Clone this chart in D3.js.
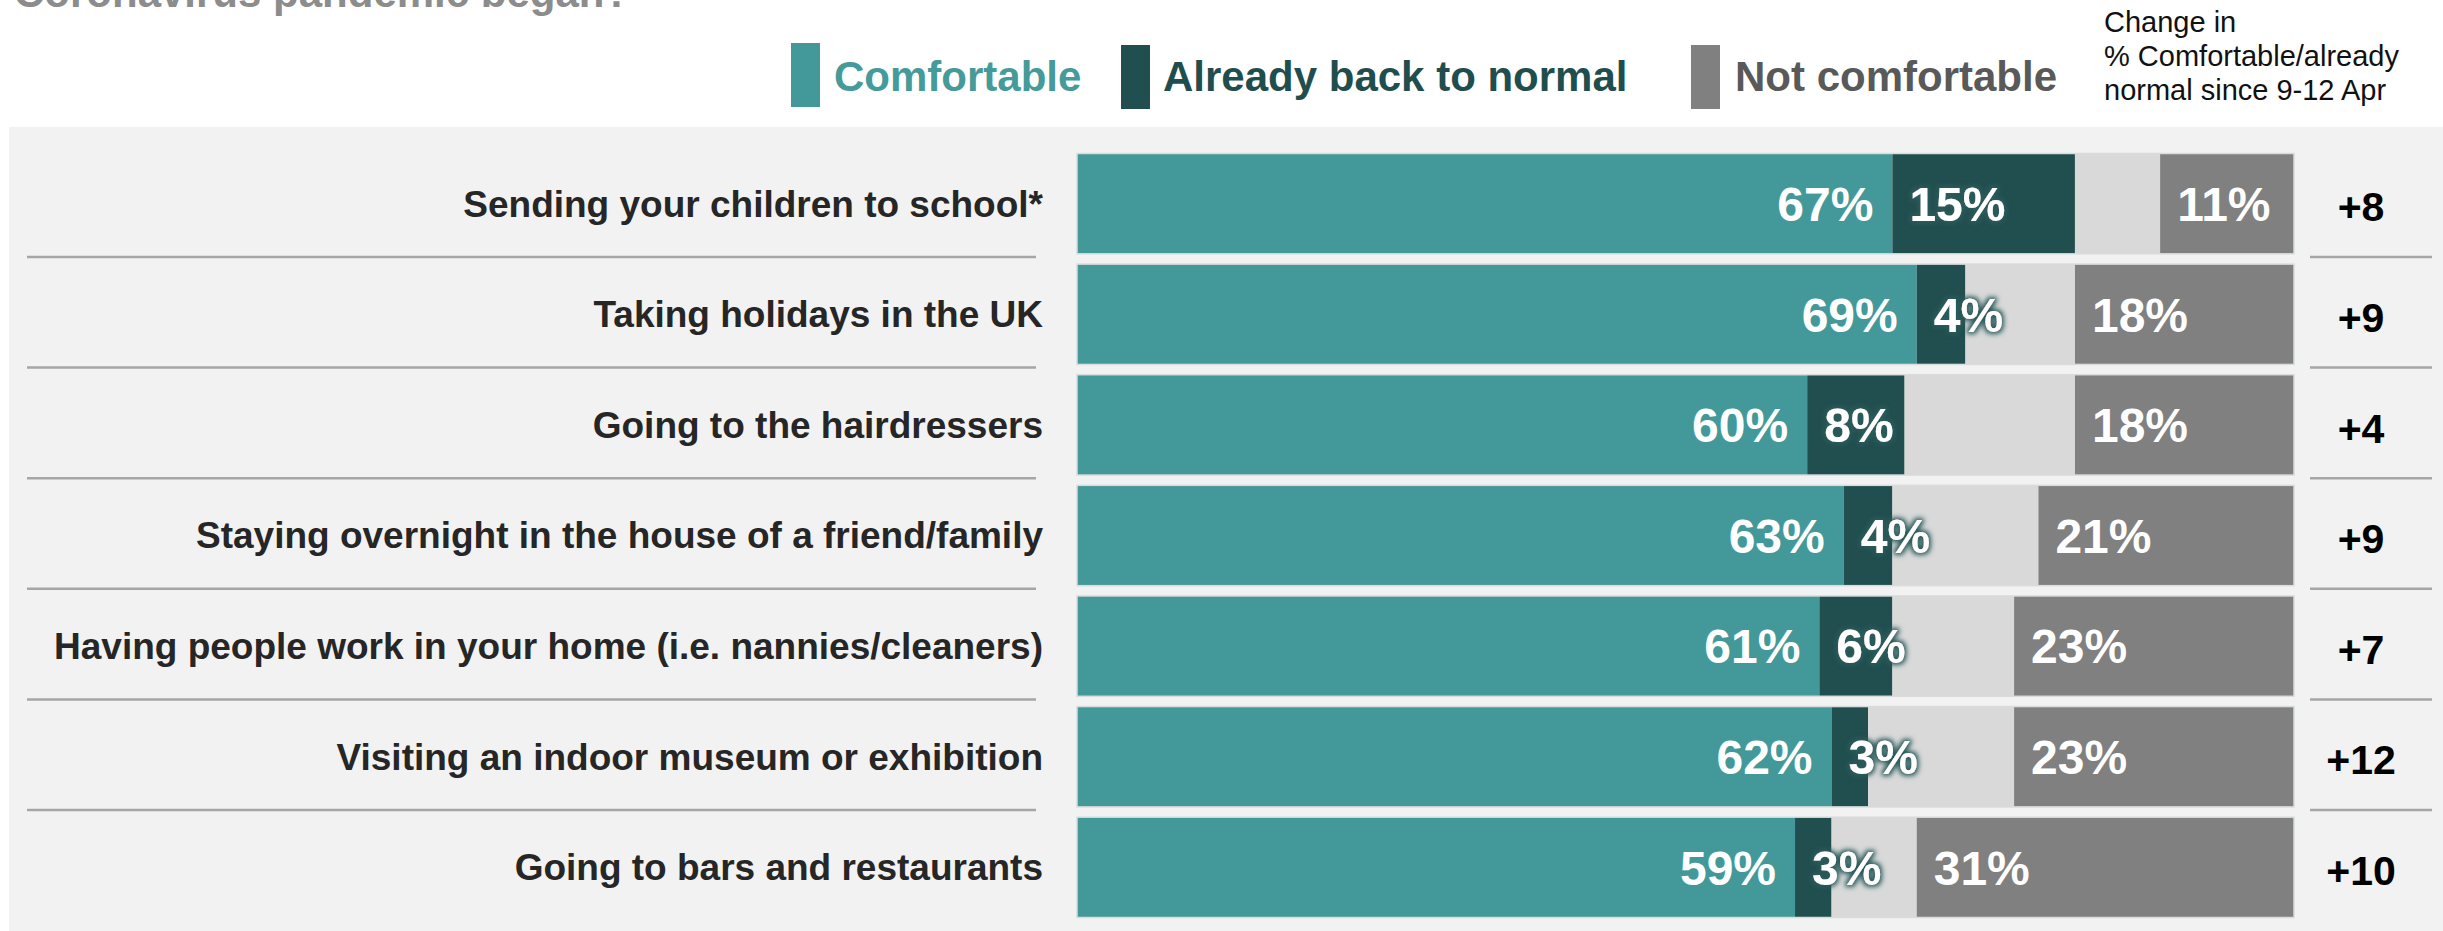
<!DOCTYPE html>
<html>
<head>
<meta charset="utf-8">
<script src="https://cdn.jsdelivr.net/npm/d3@7"></script>
<style>
  html, body { margin: 0; padding: 0; background: #ffffff; }
  svg { display: block; }
  text { font-family: "Liberation Sans", Arial, Helvetica, sans-serif; }
</style>
</head>
<body>
<svg id="chart" width="2443" height="931"></svg>
<script>
const categories = [
  "Sending your children to school*",
  "Taking holidays in the UK",
  "Going to the hairdressers",
  "Staying overnight in the house of a friend/family",
  "Having people work in your home (i.e. nannies/cleaners)",
  "Visiting an indoor museum or exhibition",
  "Going to bars and restaurants"
];
const comfortable    = [67, 69, 60, 63, 61, 62, 59];
const alreadyNormal  = [15, 4, 8, 4, 6, 3, 3];
const dontKnow       = [7, 9, 14, 12, 10, 12, 7];
const notComfortable = [11, 18, 18, 21, 23, 23, 31];
const changeLabels   = ["+8", "+9", "+4", "+9", "+7", "+12", "+10"];
const seriesKeys     = ["comfortable", "alreadyNormal", "dontKnow", "notComfortable"];
const legendLabels   = ["Comfortable", "Already back to normal", "Not comfortable"];
const titleText      = "Coronavirus pandemic began?";
const changeHeader   = ["Change in", "% Comfortable/already", "normal since 9-12 Apr"];

const rows = categories.map((c, i) => ({
  category: c,
  comfortable: comfortable[i],
  alreadyNormal: alreadyNormal[i],
  dontKnow: dontKnow[i],
  notComfortable: notComfortable[i],
  change: changeLabels[i]
}));

const colors = {
  comfortable: "#439999",
  alreadyNormal: "#214e4f",
  dontKnow: "#d9d9d9",
  notComfortable: "#808080"
};

const svg = d3.select("#chart");

// filter for glow on "already" labels
const defs = svg.append("defs");
const f = defs.append("filter").attr("id", "glow").attr("x", "-30%").attr("y", "-30%").attr("width", "160%").attr("height", "160%");
f.append("feMorphology").attr("in", "SourceAlpha").attr("operator", "dilate").attr("radius", 1.5).attr("result", "d");
f.append("feGaussianBlur").attr("in", "d").attr("stdDeviation", 2.5).attr("result", "b");
f.append("feFlood").attr("flood-color", "#2b5c5c").attr("result", "c");
f.append("feComposite").attr("in", "c").attr("in2", "b").attr("operator", "in").attr("result", "s");
const fm = f.append("feMerge");
fm.append("feMergeNode").attr("in", "s");
fm.append("feMergeNode").attr("in", "SourceGraphic");

// title (cut off at top)
svg.append("text")
  .attr("x", 14).attr("y", 7)
  .attr("font-size", 42).attr("font-weight", "bold")
  .attr("fill", "#8c8c8c")
  .text(titleText);

// background panel
svg.append("rect")
  .attr("x", 9).attr("y", 127)
  .attr("width", 2443 - 9).attr("height", 931 - 127)
  .attr("fill", "#f2f2f2");

// legend
const legendItems = [
  { label: legendLabels[0], color: colors.comfortable, text: "#459a9a", sx: 791, tx: 834 },
  { label: legendLabels[1], color: colors.alreadyNormal, text: "#1f4e4e", sx: 1121, tx: 1163 },
  { label: legendLabels[2], color: colors.notComfortable, text: "#595959", sx: 1691, tx: 1735 }
];
const lg = svg.append("g");
lg.selectAll("rect").data(legendItems).join("rect")
  .attr("x", d => d.sx).attr("y", (d, i) => i === 0 ? 43 : 45)
  .attr("width", 29).attr("height", 64)
  .attr("fill", d => d.color);
lg.selectAll("text").data(legendItems).join("text")
  .attr("x", d => d.tx).attr("y", 91)
  .attr("font-size", 42).attr("font-weight", "bold")
  .attr("fill", d => d.text)
  .text(d => d.label);

// change header
svg.append("text")
  .attr("x", 2104).attr("font-size", 29).attr("fill", "#111111")
  .selectAll("tspan").data(changeHeader).join("tspan")
  .attr("x", 2104).attr("y", (d, i) => 31.5 + i * 34.3)
  .text(d => d);

// scales
const x = d3.scaleLinear().domain([0, 100]).range([1077, 2294]);
const y = d3.scaleBand().domain(categories).range([153.5, 917.5]).paddingInner(0.093).paddingOuter(0);

const stack = d3.stack().keys(seriesKeys);
const stacked = stack(rows);

// bars
const barG = svg.append("g");
barG.selectAll("g").data(stacked).join("g")
  .attr("fill", d => colors[d.key])
  .selectAll("rect").data(d => d).join("rect")
  .attr("x", d => x(d[0]))
  .attr("y", d => y(d.data.category))
  .attr("width", d => x(d[1]) - x(d[0]))
  .attr("height", y.bandwidth());

// light outline around each bar
barG.append("g").selectAll("rect").data(rows).join("rect")
  .attr("x", x(0)).attr("y", d => y(d.category))
  .attr("width", x(100) - x(0)).attr("height", y.bandwidth())
  .attr("fill", "none").attr("stroke", "#d8dcdc").attr("stroke-width", 1.5);

// separators
const sepY = categories.slice(0, -1).map(c => y(c) + y.bandwidth() + (y.step() - y.bandwidth()) / 2 - 2);
svg.append("g").selectAll("line.l").data(sepY).join("line")
  .attr("x1", 27).attr("x2", 1036).attr("y1", d => d).attr("y2", d => d)
  .attr("stroke", "#a6a6a6").attr("stroke-width", 2.5);
svg.append("g").selectAll("line.r").data(sepY).join("line")
  .attr("x1", 2310).attr("x2", 2432).attr("y1", d => d).attr("y2", d => d)
  .attr("stroke", "#a6a6a6").attr("stroke-width", 2.5);

// category labels
svg.append("g").selectAll("text").data(rows).join("text")
  .attr("x", 1043)
  .attr("y", d => y(d.category) + y.bandwidth() / 2)
  .attr("dy", "0.35em")
  .attr("text-anchor", "end")
  .attr("font-size", 37).attr("font-weight", "bold")
  .attr("fill", "#262626")
  .text(d => d.category);

// value labels
const lblG = svg.append("g").attr("font-size", 48).attr("font-weight", "bold").attr("fill", "#ffffff");
const cy = d => y(d.category) + y.bandwidth() / 2;
lblG.selectAll("text.c").data(rows).join("text")
  .attr("x", d => x(d.comfortable) - 19).attr("y", cy).attr("dy", "0.36em")
  .attr("text-anchor", "end")
  .text(d => d.comfortable + "%");
lblG.selectAll("text.a").data(rows).join("text")
  .attr("x", d => x(d.comfortable) + 17).attr("y", cy).attr("dy", "0.36em")
  .attr("filter", "url(#glow)")
  .text(d => d.alreadyNormal + "%");
lblG.selectAll("text.n").data(rows).join("text")
  .attr("x", d => x(100 - d.notComfortable) + 17).attr("y", cy).attr("dy", "0.36em")
  .text(d => d.notComfortable + "%");

// change values
svg.append("g").selectAll("text").data(rows).join("text")
  .attr("x", 2361).attr("y", d => cy(d) + 3).attr("dy", "0.36em")
  .attr("text-anchor", "middle")
  .attr("font-size", 41).attr("font-weight", "bold")
  .attr("fill", "#000000")
  .text(d => d.change);
</script>
</body>
</html>
